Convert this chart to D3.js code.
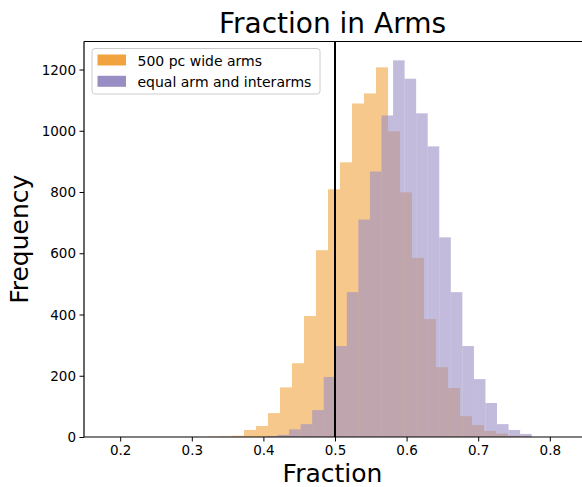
<!DOCTYPE html>
<html>
<head>
<meta charset="utf-8">
<script src="https://cdn.jsdelivr.net/npm/d3@7"></script>
<style>
  html, body { margin: 0; padding: 0; background: #fff; }
  svg { display: block; font-family: "DejaVu Sans", sans-serif; }
</style>
</head>
<body>
<svg id="chart" width="582" height="487"></svg>
<script>
// Histogram counts of the arm fraction for two arm models
const seriesNames = ["500 pc wide arms", "equal arm and interarms"];
const seriesColors = ["#f1a340", "#998ec3"];

// 500 pc wide arms: first bin edge, bin width, counts per bin
const wideStart = 0.3226;
const wideWidth = 0.01676;
const wideCounts = [1, 2, 4, 23, 36, 78, 162, 241, 395, 610, 809, 897, 1089, 1122, 1207,
                    998, 799, 585, 385, 228, 160, 68, 39, 20, 11, 4, 2];

// equal arm and interarms: first bin edge, bin width, counts per bin
const equalStart = 0.4036;
const equalWidth = 0.016134;
const equalCounts = [3, 7, 25, 42, 88, 196, 297, 473, 710, 867, 1050, 1230, 1170, 1057,
                     949, 652, 473, 297, 189, 111, 42, 23, 10];

const xTicks = [0.2, 0.3, 0.4, 0.5, 0.6, 0.7, 0.8];
const yTicks = [0, 200, 400, 600, 800, 1000, 1200];
const xDomain = [0.14944, 0.84637];
const yDomain = [0, 1291.5];
const referenceLine = 0.5;

const svg = d3.select("#chart");
const plotLeft = 84, plotRight = 583, plotTop = 41.5, plotBottom = 437;

const x = d3.scaleLinear().domain(xDomain).range([plotLeft, plotRight]);
const y = d3.scaleLinear().domain(yDomain).range([plotBottom, plotTop]);

function bins(start, width, counts) {
  return counts.map((c, i) => ({ x0: start + i * width, x1: start + (i + 1) * width, count: c }));
}

const layers = [
  { name: seriesNames[0], color: seriesColors[0], data: bins(wideStart, wideWidth, wideCounts) },
  { name: seriesNames[1], color: seriesColors[1], data: bins(equalStart, equalWidth, equalCounts) }
];

const plot = svg.append("g");
layers.forEach(layer => {
  plot.append("g")
    .selectAll("rect")
    .data(layer.data)
    .join("rect")
    .attr("x", d => x(d.x0))
    .attr("width", d => x(d.x1) - x(d.x0))
    .attr("y", d => y(d.count))
    .attr("height", d => y(0) - y(d.count))
    .attr("fill", layer.color)
    .attr("fill-opacity", 0.6);
});

// vertical marker at fraction 0.5
svg.append("line")
  .attr("x1", x(referenceLine)).attr("x2", x(referenceLine))
  .attr("y1", plotTop).attr("y2", plotBottom)
  .attr("stroke", "#000").attr("stroke-width", 2);

// axes
const xAxis = d3.axisBottom(x).tickValues(xTicks).tickFormat(d3.format(".1f")).tickSize(4.5).tickSizeOuter(0);
const yAxis = d3.axisLeft(y).tickValues(yTicks).tickFormat(d3.format("d")).tickSize(4.5).tickSizeOuter(0);

const gx = svg.append("g").attr("transform", `translate(0,${plotBottom})`).call(xAxis);
const gy = svg.append("g").attr("transform", `translate(${plotLeft},0)`).call(yAxis);
[gx, gy].forEach(g => {
  g.select(".domain").remove();
  g.selectAll(".tick line").attr("stroke", "#000").attr("stroke-width", 1);
  g.selectAll(".tick text").attr("font-size", 13.5).attr("fill", "#000")
    .attr("font-family", "DejaVu Sans");
});
gx.selectAll(".tick text").attr("dy", "0.71em").attr("y", 8);
gy.selectAll(".tick text").attr("x", -8).attr("dy", "0.35em");

// spines: left, bottom, top
const spines = svg.append("g").attr("stroke", "#000").attr("stroke-width", 1.2).attr("fill", "none");
spines.append("line").attr("x1", plotLeft).attr("x2", plotLeft).attr("y1", plotTop).attr("y2", plotBottom);
spines.append("line").attr("x1", plotLeft).attr("x2", plotRight).attr("y1", plotBottom).attr("y2", plotBottom);
spines.append("line").attr("x1", plotLeft).attr("x2", plotRight).attr("y1", plotTop).attr("y2", plotTop);

// title and axis labels
const centerX = (plotLeft + 581) / 2;
svg.append("text").attr("x", centerX).attr("y", 33)
  .attr("text-anchor", "middle").attr("font-size", 28).text("Fraction in Arms");
svg.append("text").attr("x", centerX).attr("y", 482)
  .attr("text-anchor", "middle").attr("font-size", 25).text("Fraction");
svg.append("text").attr("transform", `translate(28,${(plotTop + plotBottom) / 2}) rotate(-90)`)
  .attr("text-anchor", "middle").attr("font-size", 25).text("Frequency");

// legend
const legend = svg.append("g").attr("transform", "translate(92,48.5)");
legend.append("rect").attr("width", 228).attr("height", 45.5).attr("rx", 3)
  .attr("fill", "#fff").attr("fill-opacity", 0.8).attr("stroke", "#cccccc").attr("stroke-width", 1);
layers.forEach((layer, i) => {
  const row = legend.append("g").attr("transform", `translate(5.5,${6 + i * 21.3})`);
  row.append("rect").attr("width", 28.5).attr("height", 11).attr("fill", layer.color);
  row.append("text").attr("x", 40).attr("y", 11).attr("font-size", 14).text(layer.name);
});
</script>
</body>
</html>
